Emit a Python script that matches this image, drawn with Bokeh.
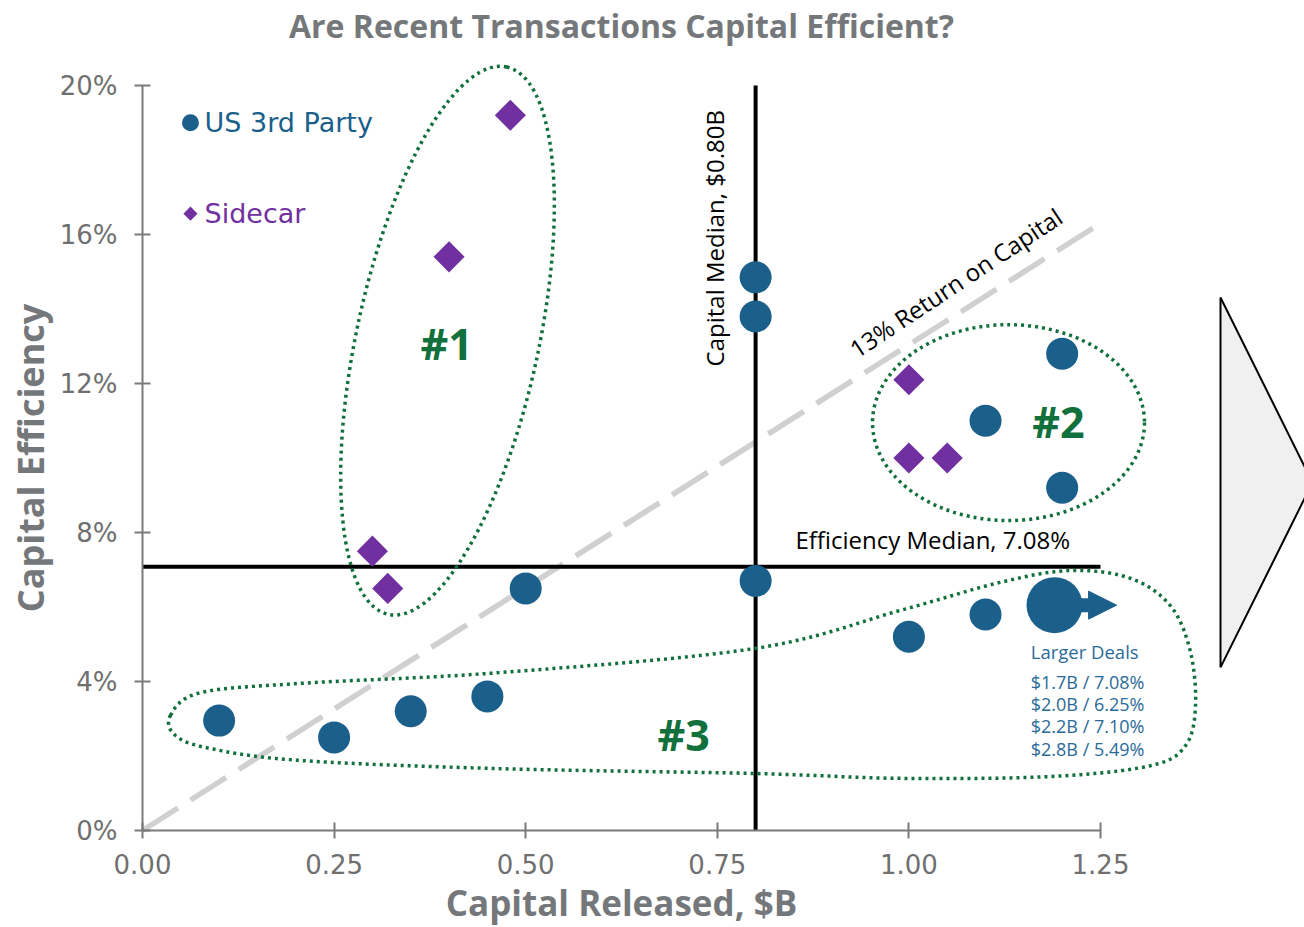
import numpy as np
from bokeh.plotting import figure
from bokeh.models import (Range1d, FixedTicker, PrintfTickFormatter,
                          Arrow, NormalHead)
from bokeh.core.properties import value
from bokeh.embed import file_html
from bokeh.resources import INLINE

# ---------------- data ----------------
US_X = [0.10, 0.25, 0.35, 0.45, 0.50, 0.80, 0.80, 0.80, 1.00, 1.10, 1.10, 1.20, 1.20]
US_Y = [2.95, 2.50, 3.20, 3.60, 6.50, 6.70, 13.80, 14.85, 5.20, 5.80, 11.00, 12.80, 9.20]
SIDE_X = [0.48, 0.40, 0.30, 0.32, 1.00, 1.00, 1.05]
SIDE_Y = [19.20, 15.40, 7.50, 6.50, 12.10, 10.00, 10.00]
LARGE_X = [1.19]
LARGE_Y = [6.05]
LARGE_TIP_X = 1.271
LARGER_DEALS = ["$1.7B / 7.08%", "$2.0B / 6.25%", "$2.2B / 7.10%", "$2.8B / 5.49%"]

CAPITAL_MEDIAN = 0.80
EFFICIENCY_MEDIAN = 7.08
ROR_X = [0.0, 1.25]
ROR_Y = [0.0, 16.3]

X_TICKS = [0.0, 0.25, 0.50, 0.75, 1.00, 1.25]
Y_TICKS = [0, 4, 8, 12, 16, 20]

# cluster outlines (annotation shapes)
ELL_X = [0.398, 1.130]
ELL_Y = [13.15, 10.95]
ELL_W = [560, 272]
ELL_H = [182, 196]
ELL_ANGLE = [np.deg2rad(77.8), 0.0]
BLOB_X = [0.0365, 0.0757, 0.206, 0.467, 0.800, 0.989, 1.119, 1.211, 1.289, 1.341, 1.367,
          1.374, 1.361, 1.315, 1.185, 0.989, 0.800, 0.467, 0.206, 0.0887, 0.043]
BLOB_Y = [3.09, 3.70, 3.95, 4.24, 4.89, 5.91, 6.66, 6.98, 6.77, 6.04, 4.83,
          3.36, 2.28, 1.74, 1.45, 1.40, 1.53, 1.66, 1.88, 2.20, 2.55]
CLUSTER_LABELS = ["#1", "#2", "#3"]
CLUSTER_LX = [0.397, 1.195, 0.706]
CLUSTER_LY = [13.08, 10.98, 2.57]

WEDGE_X = [1.4066, 1.5266, 1.4066]
WEDGE_Y = [14.31, 9.34, 4.38]

BLUE = "#1b5f8b"
PURPLE = "#7030a0"
GREEN = "#11703c"
GRAY = "#75787b"
TICK_GRAY = "#6f6f6f"


def catmull_closed(xs, ys, n=24):
    xs = np.asarray(xs, float)
    ys = np.asarray(ys, float)
    m = len(xs)
    ox, oy = [], []
    t = np.linspace(0, 1, n, endpoint=False)
    for i in range(m):
        p0 = np.array([xs[(i - 1) % m], ys[(i - 1) % m]])
        p1 = np.array([xs[i], ys[i]])
        p2 = np.array([xs[(i + 1) % m], ys[(i + 1) % m]])
        p3 = np.array([xs[(i + 2) % m], ys[(i + 2) % m]])
        for tt in t:
            pt = 0.5 * ((2 * p1) + (-p0 + p2) * tt + (2 * p0 - 5 * p1 + 4 * p2 - p3) * tt ** 2
                        + (-p0 + 3 * p1 - 3 * p2 + p3) * tt ** 3)
            ox.append(pt[0])
            oy.append(pt[1])
    ox.append(ox[0])
    oy.append(oy[0])
    return ox, oy


# frame covers the whole canvas; axes are pinned at x=0 / y=0
p = figure(width=1304, height=927, output_backend="svg", toolbar_location=None,
           x_range=Range1d(-0.18528, 1.5162), y_range=Range1d(-2.604, 22.282),
           min_border_left=0, min_border_right=0, min_border_top=0, min_border_bottom=0)
p.outline_line_color = None
p.grid.visible = False
p.background_fill_color = "white"
p.border_fill_color = "white"

for ax, ticks, fmt, bounds in ((p.xaxis[0], X_TICKS, "%.2f", (0, 1.25)),
                               (p.yaxis[0], Y_TICKS, "%d%%", (0, 20))):
    ax.fixed_location = 0
    ax.ticker = FixedTicker(ticks=ticks)
    ax.formatter = PrintfTickFormatter(format=fmt)
    ax.bounds = bounds
    ax.axis_line_color = "#7a7a7a"
    ax.axis_line_width = 2
    ax.major_tick_line_color = "#7a7a7a"
    ax.major_tick_line_width = 2
    ax.major_tick_in = 8
    ax.major_tick_out = 8
    ax.minor_tick_line_color = None
    ax.major_label_text_font = "DejaVu Sans"
    ax.major_label_text_font_size = "26px"
    ax.major_label_text_color = TICK_GRAY

p.xaxis.major_label_standoff = 15
p.yaxis.major_label_standoff = 17

# axis titles and chart title (centered on the axis bounds)
p.text([0.625], [-1.933], text=["Capital Released, $B"], text_font=value("Open Sans"),
       text_font_style="bold", text_font_size="35px", text_color=GRAY,
       text_align="center", text_baseline="middle")
p.text([-0.146], [10.0], text=["Capital Efficiency"], angle=np.pi / 2,
       text_font=value("Open Sans"), text_font_style="bold", text_font_size="36px",
       text_color=GRAY, text_align="center", text_baseline="middle")
p.text([0.625], [21.61], text=["Are Recent Transactions Capital Efficient?"],
       text_font=value("Open Sans"), text_font_style="bold", text_font_size="32px",
       text_color=GRAY, text_align="center", text_baseline="middle")

# right-side wedge
p.patch(WEDGE_X, WEDGE_Y, fill_color="#f0f0f0", line_color="black", line_width=2)

# return-on-capital line
p.line(ROR_X, ROR_Y, line_color="#d0d0d0", line_width=5.5, line_dash="42 15")

# median lines
p.line([CAPITAL_MEDIAN, CAPITAL_MEDIAN], [0, 20], line_color="black", line_width=4)
p.line([0, 1.25], [EFFICIENCY_MEDIAN, EFFICIENCY_MEDIAN], line_color="black", line_width=4)

# cluster outlines
p.ellipse(x=ELL_X, y=ELL_Y, width=ELL_W, height=ELL_H, angle=ELL_ANGLE,
          width_units="screen", height_units="screen", fill_color=None,
          line_color=GREEN, line_width=3.5, line_dash="3 4")
bx, by = catmull_closed(BLOB_X, BLOB_Y)
p.line(bx, by, line_color=GREEN, line_width=3.5, line_dash="3 4")

# points
p.scatter(US_X, US_Y, marker="circle", size=32, fill_color=BLUE, line_color=None)
p.scatter(SIDE_X, SIDE_Y, marker="square", size=22, angle=np.pi / 4,
          fill_color=PURPLE, line_color=None)

# large deals marker with arrow
p.add_layout(Arrow(end=NormalHead(size=28, fill_color=BLUE, line_color=BLUE),
                   x_start=LARGE_X[0], y_start=LARGE_Y[0], x_end=LARGE_TIP_X, y_end=LARGE_Y[0],
                   line_color=BLUE, line_width=14))
p.scatter(LARGE_X, LARGE_Y, marker="circle", size=56, fill_color=BLUE, line_color=None)

p.text([LARGE_X[0] - 0.031], [LARGE_Y[0] - 1.25], text=["Larger Deals"],
       text_font=value("Open Sans"), text_font_size="18.5px", text_color="#2b6a98",
       text_align="left", text_baseline="middle")
p.text([LARGE_X[0] - 0.031] * len(LARGER_DEALS),
       [LARGE_Y[0] - 2.05 - 0.6 * i for i in range(len(LARGER_DEALS))],
       text=LARGER_DEALS, text_font=value("Open Sans"), text_font_size="18px",
       text_color="#2b6a98", text_align="left", text_baseline="middle")

# cluster labels
p.text(CLUSTER_LX, CLUSTER_LY, text=CLUSTER_LABELS, text_font=value("Open Sans"),
       text_font_style="bold", text_font_size="43px", text_color=GREEN,
       text_align="center", text_baseline="middle")

# median / return annotations
p.text([0.746], [15.9], text=["Capital Median, $0.80B"], angle=np.pi / 2,
       text_font=value("Open Sans"), text_font_size="24px", text_color="black",
       text_align="center", text_baseline="middle")
p.text([0.852], [7.81], text=["Efficiency Median, 7.08%"],
       text_font=value("Open Sans"), text_font_size="24px", text_color="black",
       text_align="left", text_baseline="middle")
p.text([1.061], [14.71], text=["13% Return on Capital"], angle=np.deg2rad(33.5),
       text_font=value("Open Sans"), text_font_size="24px", text_color="black",
       text_align="center", text_baseline="middle")

# legend (drawn manually)
p.scatter([0.0626], [19.0], marker="circle", size=17, fill_color=BLUE, line_color=None)
p.scatter([0.0626], [16.56], marker="square", size=10, angle=np.pi / 4,
          fill_color=PURPLE, line_color=None)
p.text([0.081], [19.0], text=["US 3rd Party"], text_font=value("DejaVu Sans"),
       text_font_size="27px", text_color=BLUE, text_align="left", text_baseline="middle")
p.text([0.081], [16.56], text=["Sidecar"], text_font=value("DejaVu Sans"),
       text_font_size="27px", text_color=PURPLE, text_align="left", text_baseline="middle")

open("out.html", "w").write(file_html(p, INLINE))
